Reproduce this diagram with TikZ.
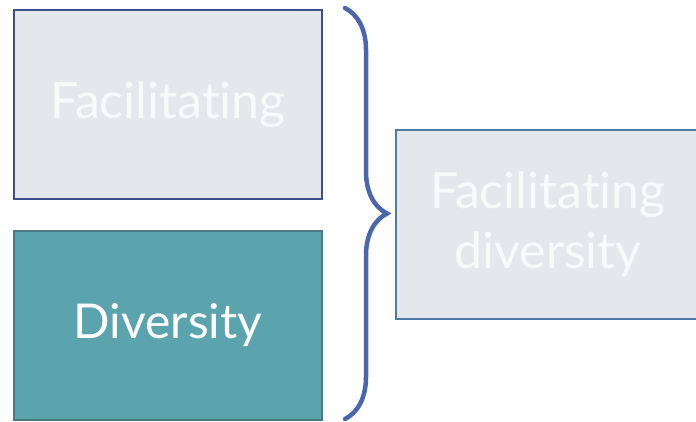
\documentclass[tikz,border=0pt]{standalone}
\usepackage{fontspec}
\setmainfont{Lato}[Ligatures=CommonOff]
\usetikzlibrary{positioning, calc, decorations.pathreplacing}
\definecolor{boxgrey}{HTML}{E4E7EC}
\definecolor{boxblue}{HTML}{3B4F8A}
\definecolor{boxsteel}{HTML}{4F79A6}
\definecolor{tealfill}{HTML}{5BA3AD}
\definecolor{tealline}{HTML}{477A83}
\definecolor{bracecol}{HTML}{4A67AD}
\definecolor{faint}{HTML}{F8F9FA}

\begin{document}
\begin{tikzpicture}[x=1pt, y=1pt,
	box/.style={rectangle, line width=2pt, minimum width=308pt, minimum height=189pt, inner sep=0pt, align=center, font=\fontsize{50}{60}\selectfont},
	grey/.style={box, draw=boxblue, fill=boxgrey, text=faint},
	teal/.style={box, draw=tealline, fill=tealfill, text=white, font=\fontsize{48}{60}\selectfont}]

	\useasboundingbox (0,0) rectangle (696,421);

	\node[grey] (F) at (168,316.5)	{Facilitating};
	\node[teal] (D) at (168,95.5)		{Diversity};
	\node[grey, draw=boxsteel, minimum width=304pt] (FD) at (548,196.5) {Facilitating\\diversity};

	% curly brace joining the two boxes on the left
	\coordinate (btop) at (345,413);
	\coordinate (bbot) at (345,2);
	\draw[bracecol, line width=4.5pt, line cap=round, decorate, decoration={brace, amplitude=42pt}] (btop) -- (bbot);
\end{tikzpicture}
\end{document}
